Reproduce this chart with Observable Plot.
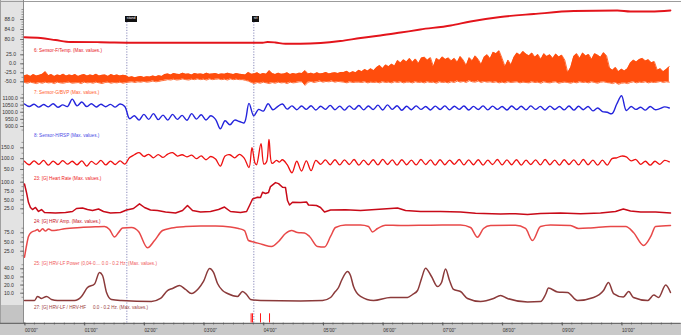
<!DOCTYPE html>
<html><head><meta charset="utf-8">
<script src="https://cdn.jsdelivr.net/npm/d3@7"></script>
<script src="https://cdn.jsdelivr.net/npm/@observablehq/plot@0.6"></script>
<style>
html,body{margin:0;padding:0;background:#fff;}
#chart{position:relative;width:681px;height:335px;overflow:hidden;background:#fff;font-family:"Liberation Sans",Arial,sans-serif;}
#chart svg{position:absolute;left:0;top:0;overflow:visible;background:transparent;}
.chrome{position:absolute;}
.lab{position:absolute;font-size:4.6px;line-height:6px;white-space:pre;}
.box{position:absolute;top:16.3px;height:5.4px;line-height:5.6px;padding:0 1.8px;background:#111;color:#fff;font-size:3.6px;}
</style></head><body><div id="chart"></div>
<script>
// ---------- data ----------
const timeTicks = [0,1,2,3,4,5,6,7,8,9,10];
const timeLabels = ["00'00''","01'00''","02'00''","03'00''","04'00''","05'00''","06'00''","07'00''","08'00''","09'00''","10'00''"];
const markerNames = ["stand","sit"];
const markerTimes = [1.714, 3.841];
const eventTimes = [3.796, 3.819, 3.953, 4.104];

const channelLabels = ["6: Sensor-F/Temp. (Max. values.)","7: Sensor-G/BVP (Max. values.)","8: Sensor-H/RSP (Max. values.)","23: [G] Heart Rate (Max. values.)","24: [G] HRV Amp. (Max. values.)","25: [G] HRV-LF Power (0,04-0.... 0.0 - 0.2 Hz. (Max. values.)","27: [G] HRV-LF / HRV-HF","0.0 - 0.2 Hz. (Max. values.)"];

// Temperature
const tempT = [0,0.27,0.52,0.77,1.27,1.86,2.95,3.99,4.07,4.2,4.37,4.62,4.96,5.29,5.63,5.96,6.30,6.63,7.14,7.47,7.97,8.53,9.20,9.93,10.15,10.49,10.82];
const tempV = [80.9,80.6,79.8,79.0,78.9,78.7,78.7,78.7,79.0,78.8,78.3,78.3,78.6,79.4,80.6,81.6,82.8,84.0,85.6,87.2,89.0,90.2,91.4,91.6,91.2,91.2,91.6];

// Orange channel: upper and lower envelope, every 0.05 min
const orangeStep = 0.05;
const orangeHi = [-33,-31,-35,-30,-34,-32,-29,-22,-33,-30,-35,-31,-33,-29,-34,-31,-33,-30,-35,-32,-30,-34,-31,-33,-29,-34,-32,-31,-35,-30,-33,-31,-34,-32,-33,
 -38,-36,-39,-37,-35,-38,-36,-37,-34,-36,-33,-35,
 -30,-28,-31,-27,-29,-30,-26,-29,-28,-31,-27,-29,-28,-30,-26,-29,-28,-27,-30,-28,-29,-26,-28,-30,-27,-29,
 -30,-31,-24,-29,
 -28,-25,-30,-27,-29,-19,-27,-30,-26,-29,-28,-25,-30,-27,-29,-26,
 -27,-19,-28,-26,-29,-25,-28,-27,-24,-28,-26,-25,-27,-24,
 -24,-21,-26,-22,-25,
 -18,-22,-16,-20,-14,-19,
 -10,-5,-13,-3,-8,-1,-6,
 9,2,11,5,
 15,4,13,1,16,
 18,10,17,-8,15,9,19,12,16,8,
 15,4,20,10,-5,17,8,22,12,-2,18,25,14,
 32,28,36,
 15,-8,10,-3,18,
 30,24,34,27,
 22,30,18,26,12,28,20,25,15,27,19,24,10,
 -25,-10,
 20,28,15,30,22,26,12,28,24,18,31,22,
 -12,-18,-10,-22,-15,-20,-14,
 2,10,5,12,15,8,11,3,6,
 -18,-14,-22,-16,-8];
const orangeLo = [-52,-54,-51,-53,-55,-52,-54,-51,-53,-52,-55,-51,-53,-54,-52,-51,-54,-53,-52,-55,-51,-53,-52,-54,-51,-53,-55,-52,-51,-54,-52,-53,-51,-54,-52,
 -51,-50,-52,-50,-51,-49,-51,-50,-48,-50,-49,-47,
 -46,-44,-45,-43,-45,-44,-42,-44,-45,-43,-44,-42,-44,-43,-45,-42,-44,-43,-42,-44,-43,-45,-42,-44,-43,-44,
 -44,-46,-48,-52,
 -55,-52,-54,-51,-53,-55,-52,-54,-51,-53,-52,-55,-51,-53,-52,-50,
 -50,-60,-51,-49,-52,-50,-48,-51,-49,-50,-48,-51,-49,-50,
 -51,-53,-50,-52,-51,
 -51,-52,-50,-53,-51,-52,
 -51,-53,-50,-52,-51,-53,-50,
 -52,-50,-53,-51,
 -51,-53,-50,-52,-51,
 -53,-50,-52,-51,-54,-50,-52,-51,-53,-50,
 -52,-48,-51,-49,-52,-47,-50,-51,-48,-52,-49,-51,-50,
 -52,-50,-53,
 -51,-53,-50,-52,-51,
 -50,-53,-51,-52,
 -53,-50,-52,-51,-54,-50,-52,-53,-51,-50,-54,-52,-51,
 -52,-54,
 -51,-53,-50,-52,-51,-53,-50,-52,-54,-51,-50,-52,
 -53,-55,-52,-57,-54,-53,-55,
 -52,-50,-53,-51,-52,-50,-53,-51,-52,
 -51,-49,-52,-50,-51];

// Blue channel, every 0.08 min
const bvpStep = 0.08;
const bvpV = [1058,1040,1056,1036,1054,1038,1060,1035,1052,1040,1092,1045,1072,1040,1060,1037,1056,1039,1055,1036,1058,1040,
 955,975,945,985,950,990,948,980,945,985,950,978,944,990,952,982,946,975,950,
 884,940,912,945,935,
 926,1062,975,1020,1008,1060,1018,1040,1058,
 1022,1045,1018,1044,1020,1046,1016,1042,1020,1048,1018,1043,1015,1045,1020,1047,1017,1044,1019,1050,
 1016,1052,1020,1046,1014,1042,1018,1045,1020,1040,1016,1043,1019,1045,1017,1042,1020,1044,1016,1041,
 1019,1045,1017,1043,1020,1040,1016,1044,1019,1042,1017,1045,1020,1041,1016,1043,1019,1040,1017,1044,
 1015,1042,1018,1040,1010,1030,1005,1000,
 990,1058,1116,1012,1040,1020,1035,1015,1040,1018,1025,1038,1030];

// Red respiration channel
const rspStep = 0.08;
const rspA = [88,72,90,74,92,70,89,73,91,75,88,72,90,66,87,74,92,71,89,73,90,75,
 105,118,128,110,120,104,119,106,121,128,112,118,108,116,100,113,95,110,98,66,112,118,104,120,102,59];
const rspSitT = [3.81,3.86,3.886,3.961,4.01,4.054,4.095,4.146,4.221,4.27];
const rspSitV = [151,80,72,169,75,85,189,78,92,84];
const rspBStart = 4.32;
const rspB = [95,72,35,88,43,90,45,92,74,94,72,
 95,71,94,73,96,70,93,72,95,71,97,73,94,70,95,72,93,71,96,73,94,70,95,72,93,74,96,71,94,72,
 95,70,93,73,96,71,94,72,95,70,93,73,94,71,96,72,93,70,95,73,94,71,96,72,93,70,
 93,70,100,104,112,108,90,96,74,88,70,88,74,92,85];

// Heart rate
const hrT = [0,0.034,0.067,0.1,0.134,0.184,0.235,0.285,0.335,0.519,0.687,0.804,0.871,0.972,1.055,1.139,1.24,1.323,1.44,1.608,1.709,1.826,1.926,2.01,2.11,2.228,2.362,2.53,2.647,2.73,2.814,2.948,3.116,3.25,3.35,3.45,3.618,3.72,3.769,3.82,3.903,3.953,3.987,4.037,4.087,4.12,4.204,4.255,4.322,4.372,4.405,4.439,4.489,4.623,4.724,4.757,4.891,4.958,5.025,5.126,5.377,5.628,5.879,6.13,6.248,6.382,6.633,6.968,7.303,7.554,7.973,8.224,8.425,8.643,8.978,9.313,9.648,9.899,10.03,10.15,10.32,10.57,10.82];
const hrV = [95,70.8,42.7,28.7,23,28.7,17.4,23,14.6,13.2,14.6,17.4,25.8,27.2,23,20.2,24.4,17.4,13.2,14.6,21.6,25.8,39,28.7,21.6,20.2,16,13.2,20.2,34.3,20.2,16,17.4,23,30,17.4,14.6,17.4,34.3,52.5,57.6,56.7,71.6,68,70.8,87.6,98.9,96,85.7,84.8,48.3,35.7,43.5,42.7,44.1,35.7,34.3,28.7,16,21.6,22.2,20.2,23,25.8,27.2,20.2,17.4,17.4,16,12.6,10.4,11,9,11.8,13.2,11,13.2,17.4,24.4,18.8,16,16,13.2];

// HRV amplitude
const hrvT = [0,0.034,0.067,0.117,0.184,0.218,0.251,0.302,0.352,0.402,0.469,0.553,0.67,0.938,1.189,1.34,1.424,1.508,1.575,1.642,1.792,1.91,2.06,2.178,2.312,2.462,2.697,2.948,3.2,3.45,3.585,3.685,3.752,3.853,3.987,4.137,4.255,4.372,4.472,4.573,4.69,4.774,4.908,5.025,5.126,5.209,5.377,5.628,5.762,5.829,5.913,6.047,6.298,6.801,7.303,7.471,7.588,7.688,7.806,8.224,8.392,8.509,8.643,8.811,9.146,9.28,9.481,9.816,10.07,10.2,10.37,10.49,10.57,10.82];
const hrvV = [8.7,40.5,65,76.6,81,84,78.5,85.9,79.9,85.3,81,82.6,85.9,89.4,91.3,92.1,84,63.6,75.8,88,89.4,78.5,34.2,54,81.2,88,92.1,93.5,93.5,90.8,86.7,81.2,54,49.5,43.2,37.8,51.4,73.1,81.2,75.8,74.5,65,37.8,36.4,65,89.4,96.2,96.2,92.1,77.2,86.7,95.7,94.8,95.7,96.2,89.4,63,86.7,94.8,95.7,86.7,54,92.1,96.2,94.8,86.7,88,92.1,92.1,75.8,40.5,65,92.1,94.8];

// HRV-LF power
const lfT = [0,0.168,0.218,0.285,0.369,0.452,0.553,0.838,0.955,1.055,1.173,1.256,1.307,1.374,1.457,1.625,2.127,2.278,2.395,2.479,2.596,2.697,2.797,2.915,2.998,3.099,3.166,3.233,3.317,3.4,3.568,3.652,3.719,3.786,3.953,4.623,4.992,5.126,5.193,5.26,5.31,5.41,5.46,5.511,5.628,5.846,6.131,6.415,6.499,6.583,6.65,6.717,6.817,6.918,6.985,7.052,7.119,7.186,7.303,7.42,7.638,7.856,7.973,8.09,8.425,8.643,8.727,8.777,8.928,9.095,9.263,9.531,9.698,9.782,9.866,10.03,10.12,10.2,10.44,10.54,10.62,10.74,10.82];
const lfV = [1,1,6,3.5,6,2.3,1,1,6,17,21.3,35.5,31.8,10.9,2.3,1,-0.2,3.5,13.3,15.8,19.5,14.6,9.6,15.8,24.4,40.4,35.5,21.9,13.3,9.6,6,12.1,8.4,2.3,1,0.4,1,4.7,10.9,17,25.6,36.7,31.8,18.2,6,1,4.7,4.7,8.4,13.3,28.1,40.7,30.5,18.2,23.2,39.8,25.6,14.6,12.1,3.5,-0.2,3.5,7.2,3.5,-0.8,-0.2,8.4,16.4,11.5,10.9,1,4.7,13.3,23.2,9.6,5.3,12.1,4.7,1,7.8,4.7,20.1,10.9];

// ---------- build ----------
const pairs = (T, V) => T.slice(0, Math.min(T.length, V.length)).map((t, i) => ({t, v: V[i]}));
const stepped = (V, step, start = 0) => V.map((v, i) => ({t: start + i * step, v}));

const tempData = pairs(tempT, tempV);
const orangeData = orangeHi.map((h, i) => ({t: i * orangeStep, hi: h, lo: orangeLo[i]}));
const bvpData = stepped(bvpV, bvpStep);
const rspData = [...stepped(rspA, rspStep), ...pairs(rspSitT, rspSitV), ...stepped(rspB, rspStep, rspBStart)];
const hrData = pairs(hrT, hrV);
const hrvData = pairs(hrvT, hrvV);
const lfData = pairs(lfT, lfV);

const FONT = '"Liberation Sans", Arial, sans-serif';
const XS = {domain: [0, 10.82], range: [24, 670]};
const chart = document.getElementById("chart");

function chrome(css) { const d = document.createElement("div"); d.className = "chrome"; Object.assign(d.style, css); chart.appendChild(d); }
chrome({left: "0px", top: "0px", width: "23px", height: "305px", background: "#e3e3e3"});
chrome({left: "0px", top: "305px", width: "23px", height: "18px", background: "#c4c4c4"});
chrome({left: "0px", top: "323px", width: "681px", height: "12px", background: "#c9c9c9"});
chrome({left: "0px", top: "1px", width: "681px", height: "1px", background: "#9c9c9c"});
chrome({left: "0px", top: "0px", width: "1px", height: "323px", background: "#a0a0a0"});
chrome({left: "22.5px", top: "0px", width: "1.5px", height: "323px", background: "#8c8c8c"});

function yAxes(ticks, minor, pad) {
  return [
    Plot.axisY({ticks: minor, tickSize: 2, tickFormat: () => "", stroke: "#666", strokeWidth: 0.6, label: null}),
    Plot.axisY({ticks, tickSize: 3.5, tickPadding: pad, tickFormat: d => d.toFixed(1), fontSize: 5.1, fill: "#333", stroke: "#555", strokeWidth: 0.7, label: null})
  ];
}
function panel(y, marks) {
  const p = Plot.plot({
    width: 681, height: 335, marginLeft: 23.5, marginRight: 0, marginTop: 0, marginBottom: 12.5,
    x: {...XS, axis: null}, y: {...y}, style: {background: "transparent", fontFamily: FONT, overflow: "visible"},
    marks
  });
  chart.appendChild(p);
  return p;
}

// background layer: time axis, marker lines, events
const bg = panel({domain: [0, 335], range: [0, 335], axis: null}, [
  Plot.axisX({ticks: d3.range(0, 10.9, 1/6), tickSize: 2, tickFormat: () => "", anchor: "bottom", stroke: "#444", strokeWidth: 0.6, label: null}),
  Plot.axisX({ticks: timeTicks, tickSize: 3, tickPadding: 3, anchor: "bottom", tickFormat: (d, i) => timeLabels[timeTicks.indexOf(d)], textAnchor: "start", dx: 0.5, fontSize: 4.6, fill: "#333", stroke: "#333", strokeWidth: 0.7, label: null}),
  Plot.ruleY([322.8], {stroke: "#555", strokeWidth: 1, x1: -2.3, x2: 11}),
  Plot.ruleX(markerTimes, {x: d => d, y1: 21.7, y2: 322.5, stroke: "#6b6ba8", strokeWidth: 0.8, strokeDasharray: "1.2,1.5"}),
  Plot.ruleX(eventTimes, {x: d => d, y1: 313.3, y2: 322.5, stroke: "#ff1a1a", strokeWidth: 1})
]);

panel({domain: [80, 88], range: [39, 19]}, [
  ...yAxes([80, 84, 88], d3.range(77, 92.5, 1), 6.1),
  Plot.line(tempData, {x: "t", y: "v", stroke: "#e3141b", strokeWidth: 1.8, curve: "monotone-x"})
]);
panel({domain: [-50, 25], range: [81.3, 54.3]}, [
  ...yAxes([-50, -25, 0, 25], d3.range(-62.5, 40, 12.5), 4.5),
  Plot.areaY(orangeData, {x: "t", y1: "lo", y2: "hi", fill: "#ff4d0d"}),
  Plot.line(orangeData, {x: "t", y: "hi", stroke: "#ff4d0d", strokeWidth: 0.8}),
  Plot.line(orangeData, {x: "t", y: "lo", stroke: "#ff4d0d", strokeWidth: 0.8})
]);
panel({domain: [900, 1100], range: [126, 97.5]}, [
  ...yAxes([900, 950, 1000, 1050, 1100], d3.range(875, 1126, 25), 2.7),
  Plot.line(bvpData, {x: "t", y: "v", stroke: "#2424dc", strokeWidth: 1.4, curve: "catmull-rom"})
]);
panel({domain: [50, 150], range: [169, 147.3]}, [
  ...yAxes([50, 100, 150], d3.range(25, 176, 25), 6.7),
  Plot.line(rspData, {x: "t", y: "v", stroke: "#ee1111", strokeWidth: 1.3, curve: "catmull-rom"})
]);
panel({domain: [25, 100], range: [208.3, 181.7]}, [
  ...yAxes([25, 50, 75, 100], d3.range(12.5, 113, 12.5), 6.7),
  Plot.line(hrData, {x: "t", y: "v", stroke: "#c80a18", strokeWidth: 1.5})
]);
panel({domain: [25, 75], range: [250.7, 232.3]}, [
  ...yAxes([25, 50, 75], d3.range(12.5, 88, 12.5), 6.7),
  Plot.line(hrvData, {x: "t", y: "v", stroke: "#e84848", strokeWidth: 1.5, curve: "monotone-x"})
]);
panel({domain: [10, 40], range: [292.7, 268.3]}, [
  ...yAxes([10, 20, 30, 40], d3.range(5, 46, 5), 6.7),
  Plot.line(lfData, {x: "t", y: "v", stroke: "#8b3a3a", strokeWidth: 1.5, curve: "monotone-x"})
]);

// channel labels
const labelPos = [[34, 50.5, "#e8141c"], [34, 92.6, "#ff5a2a"], [34, 136, "#4a4ae6"], [34, 178.6, "#ee2020"], [34, 222, "#c81020"], [34, 264, "#f05a5a"], [34, 307.7, "#9a4040"], [93, 307.7, "#9a4040"]];
channelLabels.forEach((txt, i) => {
  const d = document.createElement("div");
  d.className = "lab";
  d.textContent = txt;
  d.style.left = labelPos[i][0] + "px";
  d.style.top = (labelPos[i][1] - 3) + "px";
  d.style.color = labelPos[i][2];
  chart.appendChild(d);
});

// marker boxes
const xScale = bg.scale("x");
markerNames.forEach((name, i) => {
  const b = document.createElement("div");
  b.className = "box";
  b.textContent = name;
  b.style.left = (xScale.apply(markerTimes[i]) - 1.3) + "px";
  chart.appendChild(b);
});
</script></body></html>
